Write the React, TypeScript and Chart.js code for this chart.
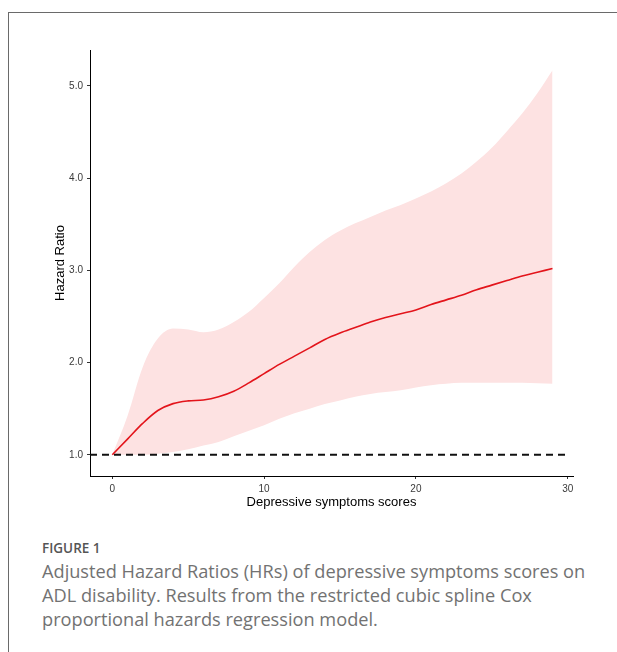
import React, { useEffect, useRef } from "react";
import { Chart, registerables } from "chart.js";

Chart.register(...registerables);

// ---- data ----
const SCORES = [0, 1, 2, 3, 4, 5, 6, 7, 8, 9, 10, 11, 12, 13, 14, 15, 16, 17, 18, 19, 20, 21, 22, 23, 24, 25, 26, 27, 28, 29];
const HR = [1.0, 1.17, 1.34, 1.48, 1.555, 1.585, 1.595, 1.63, 1.69, 1.78, 1.88, 1.98, 2.07, 2.16, 2.25, 2.32, 2.38, 2.44, 2.49, 2.53, 2.57, 2.63, 2.68, 2.73, 2.79, 2.84, 2.89, 2.94, 2.98, 3.02];
const HR_UPPER = [1.0, 1.42, 1.95, 2.26, 2.37, 2.36, 2.33, 2.36, 2.44, 2.55, 2.7, 2.86, 3.04, 3.2, 3.33, 3.43, 3.51, 3.58, 3.65, 3.71, 3.78, 3.855, 3.945, 4.05, 4.18, 4.33, 4.51, 4.7, 4.92, 5.17];
const HR_LOWER = [1.0, 1.0, 1.0, 1.01, 1.03, 1.06, 1.1, 1.14, 1.2, 1.26, 1.32, 1.39, 1.45, 1.5, 1.55, 1.59, 1.63, 1.66, 1.68, 1.7, 1.73, 1.755, 1.77, 1.78, 1.78, 1.78, 1.78, 1.78, 1.775, 1.77];
const REF_HR = 1.0;
const REF_X = [-1.47, 30];
const X_TICKS = [0, 10, 20, 30];
const Y_TICKS = [1, 2, 3, 4, 5];
const X_RANGE = [-1.47, 30.35];
const Y_RANGE = [0.77, 5.39];

const X_TITLE = "Depressive symptoms scores";
const Y_TITLE = "Hazard Ratio";
const FIG_LABEL = "FIGURE 1";
const CAPTION_LINES = [
  "Adjusted Hazard Ratios (HRs) of depressive symptoms scores on",
  "ADL disability. Results from the restricted cubic spline Cox",
  "proportional hazards regression model.",
];

const pts = (ys: number[]) => SCORES.map((x, i) => ({ x, y: ys[i] }));

export default function App() {
  const ref = useRef<HTMLCanvasElement | null>(null);

  useEffect(() => {
    if (!ref.current) return;
    const tickFont = { family: "Arial, 'Liberation Sans', sans-serif", size: 10 };
    const titleFont = { family: "Arial, 'Liberation Sans', sans-serif", size: 13 };
    const chart = new Chart(ref.current, {
      type: "line",
      data: {
        datasets: [
          {
            label: "HR",
            data: pts(HR),
            borderColor: "#e3141b",
            borderWidth: 1.6,
            pointRadius: 0,
            cubicInterpolationMode: "monotone",
            fill: false,
            order: 0,
          },
          {
            label: "ref",
            data: REF_X.map((x) => ({ x, y: REF_HR })),
            borderColor: "#111111",
            borderWidth: 2,
            borderDash: [7, 5],
            pointRadius: 0,
            fill: false,
            order: 1,
          },
          {
            label: "upper",
            data: pts(HR_UPPER),
            borderWidth: 0,
            borderColor: "rgba(0,0,0,0)",
            backgroundColor: "#fde2e2",
            pointRadius: 0,
            cubicInterpolationMode: "monotone",
            fill: "+1",
            order: 2,
          },
          {
            label: "lower",
            data: pts(HR_LOWER),
            borderWidth: 0,
            borderColor: "rgba(0,0,0,0)",
            pointRadius: 0,
            cubicInterpolationMode: "monotone",
            fill: false,
            order: 3,
          },
        ],
      },
      options: {
        animation: false,
        responsive: false,
        devicePixelRatio: 1,
        layout: { padding: { left: 0, top: 50, right: 44, bottom: 0 } },
        plugins: { legend: { display: false }, tooltip: { enabled: false } },
        scales: {
          x: {
            type: "linear",
            min: X_RANGE[0],
            max: X_RANGE[1],
            afterBuildTicks: (axis: any) => {
              axis.ticks = X_TICKS.map((v) => ({ value: v }));
            },
            afterFit: (scale: any) => {
              scale.height = 44;
            },
            ticks: {
              font: tickFont,
              color: "#3a3a3a",
              padding: 4,
              maxRotation: 0,
              callback: (v: any) => String(v),
            },
            grid: { display: true, drawOnChartArea: false, drawTicks: true, tickLength: 3, color: "#333", lineWidth: 1 },
            border: { display: true, color: "#000", width: 1 },
            title: { display: true, text: X_TITLE, font: titleFont, color: "#000", padding: { top: 0, bottom: 9.5 } },
          },
          y: {
            type: "linear",
            min: Y_RANGE[0],
            max: Y_RANGE[1],
            afterBuildTicks: (axis: any) => {
              axis.ticks = Y_TICKS.map((v) => ({ value: v }));
            },
            afterFit: (scale: any) => {
              scale.width = 90;
            },
            ticks: {
              font: tickFont,
              color: "#3a3a3a",
              padding: 4,
              callback: (v: any) => Number(v).toFixed(1),
            },
            grid: { display: true, drawOnChartArea: false, drawTicks: true, tickLength: 3, color: "#333", lineWidth: 1 },
            border: { display: true, color: "#000", width: 1 },
            title: { display: true, text: Y_TITLE, font: titleFont, color: "#000", padding: { top: 52.7, bottom: 0 } },
          },
        },
      },
    } as any);
    return () => chart.destroy();
  }, []);

  return (
    <div style={{ position: "fixed", left: 0, top: 0, width: 617, height: 652, overflow: "hidden", background: "#fff" }}>
      <div
        style={{
          position: "absolute",
          left: 8,
          top: 12,
          width: 700,
          height: 700,
          borderLeft: "1px solid #6a6a6a",
          borderTop: "1px solid #6a6a6a",
        }}
      />
      <canvas ref={ref} width={617} height={520} style={{ position: "absolute", left: 0, top: 0, width: 617, height: 520 }} />
      <div
        style={{
          position: "absolute",
          left: 42,
          top: 539,
          fontFamily: "'Open Sans', sans-serif",
          fontSize: 13.5,
          lineHeight: "18px",
          fontWeight: 600,
          color: "#555",
          whiteSpace: "nowrap",
        }}
      >
        {FIG_LABEL}
      </div>
      <div
        style={{
          position: "absolute",
          left: 42,
          top: 559,
          fontFamily: "'Open Sans', sans-serif",
          fontSize: 18.2,
          lineHeight: "24px",
          fontWeight: 400,
          color: "#727272",
          whiteSpace: "nowrap",
        }}
      >
        {CAPTION_LINES.map((l, i) => (
          <div key={i}>{l}</div>
        ))}
      </div>
    </div>
  );
}
